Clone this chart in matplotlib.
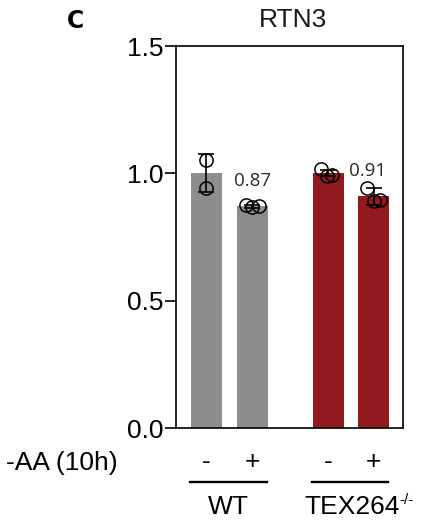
import matplotlib
matplotlib.use("Agg")
import matplotlib.pyplot as plt
import numpy as np
from matplotlib.transforms import blended_transform_factory

# ---- data ----
title = "RTN3"
panel = "C"
conditions = ["-", "+", "-", "+"]
genotypes = ["WT", "TEX264"]
genotype_sup = ["", "-/-"]
bar_means = [1.00, 0.87, 1.00, 0.91]
bar_errs = [0.074, 0.006, 0.012, 0.033]
points = [
    [1.052, 0.944],
    [0.875, 0.868, 0.870],
    [1.017, 0.990, 0.993],
    [0.943, 0.892, 0.895],
]
point_offsets = [
    [0.0, 0.0],
    [-0.15, 0.0, 0.15],
    [-0.17, -0.04, 0.08],
    [-0.15, 0.0, 0.13],
]
annotations = ["", "0.87", "", "0.91"]
yticks = [0.0, 0.5, 1.0, 1.5]
ytick_labels = ["0.0", "0.5", "1.0", "1.5"]

positions = [0, 1, 2.65, 3.63]
colors = ["#8d8d8b", "#8d8d8b", "#921a1f", "#921a1f"]

FONT = "Liberation Sans"

fig = plt.figure(figsize=(4.23, 5.25), dpi=100)
ax = fig.add_axes([176/423, 1 - 428/525, (403-176)/423, (428-46)/525])

ax.bar(positions, bar_means, width=0.67, color=colors, zorder=1)
ax.errorbar(positions, bar_means, yerr=bar_errs, fmt="none", ecolor="black",
            elinewidth=1.2, capsize=6, capthick=1.2, zorder=3)
for x, pts, offs in zip(positions, points, point_offsets):
    ax.plot([x + o for o in offs], pts, "o", mfc="none", mec="black",
            ms=9.5, mew=1.1, zorder=4)
for i, (x, m, a) in enumerate(zip(positions, bar_means, annotations)):
    if a:
        dx = -0.12 if i == 3 else 0.0
        ax.text(x + dx, m + 0.08, a, ha="center", va="baseline", fontsize=13.5,
                family="Open Sans", color="#2a2a2a")

ax.set_xlim(-0.66, 4.27)
ax.set_ylim(0, 1.5)
ax.set_yticks(yticks)
ax.set_yticklabels(ytick_labels, family=FONT, fontsize=19)
ax.tick_params(axis="y", length=8, width=1.2, pad=1)
ax.set_xticks([])
for s in ax.spines.values():
    s.set_linewidth(1.2)

fig.text(293/423, 1 - 20/525, title, ha="center", va="center",
         fontsize=19, family=FONT, color="#1a1a1a")
fig.text(75/423, 1 - 21/525, panel, ha="center", va="center",
         fontsize=17, fontweight="bold", family="DejaVu Sans")

tr = blended_transform_factory(ax.transData, fig.transFigure)
fig.text(6/423, 1 - 463/525, "-AA (10h)", ha="left", va="center",
         fontsize=19, family=FONT)
for x, c in zip(positions, conditions):
    ax.text(x, 1 - 462/525, c, ha="center", va="center", fontsize=19,
            family=FONT, transform=tr, clip_on=False)
grp = [(positions[0], positions[1]), (positions[2], positions[3])]
for (a, b), g, sup in zip(grp, genotypes, genotype_sup):
    ax.plot([a - 0.35, b + 0.32], [1 - 481.5/525] * 2, color="black", lw=1.7,
            transform=tr, clip_on=False)
    if sup:
        ax.text(b + 0.58, 1 - 507/525, g, ha="right", va="center",
                fontsize=19, family=FONT, transform=tr, clip_on=False)
        ax.text(b + 0.56, 1 - 500/525, sup, ha="left", va="center",
                fontsize=11, family=FONT, transform=tr, clip_on=False)
    else:
        ax.text((a + b) / 2 - 0.02, 1 - 507/525, g, ha="center", va="center",
                fontsize=19, family=FONT, transform=tr, clip_on=False)

fig.savefig("out.png", dpi=100)
